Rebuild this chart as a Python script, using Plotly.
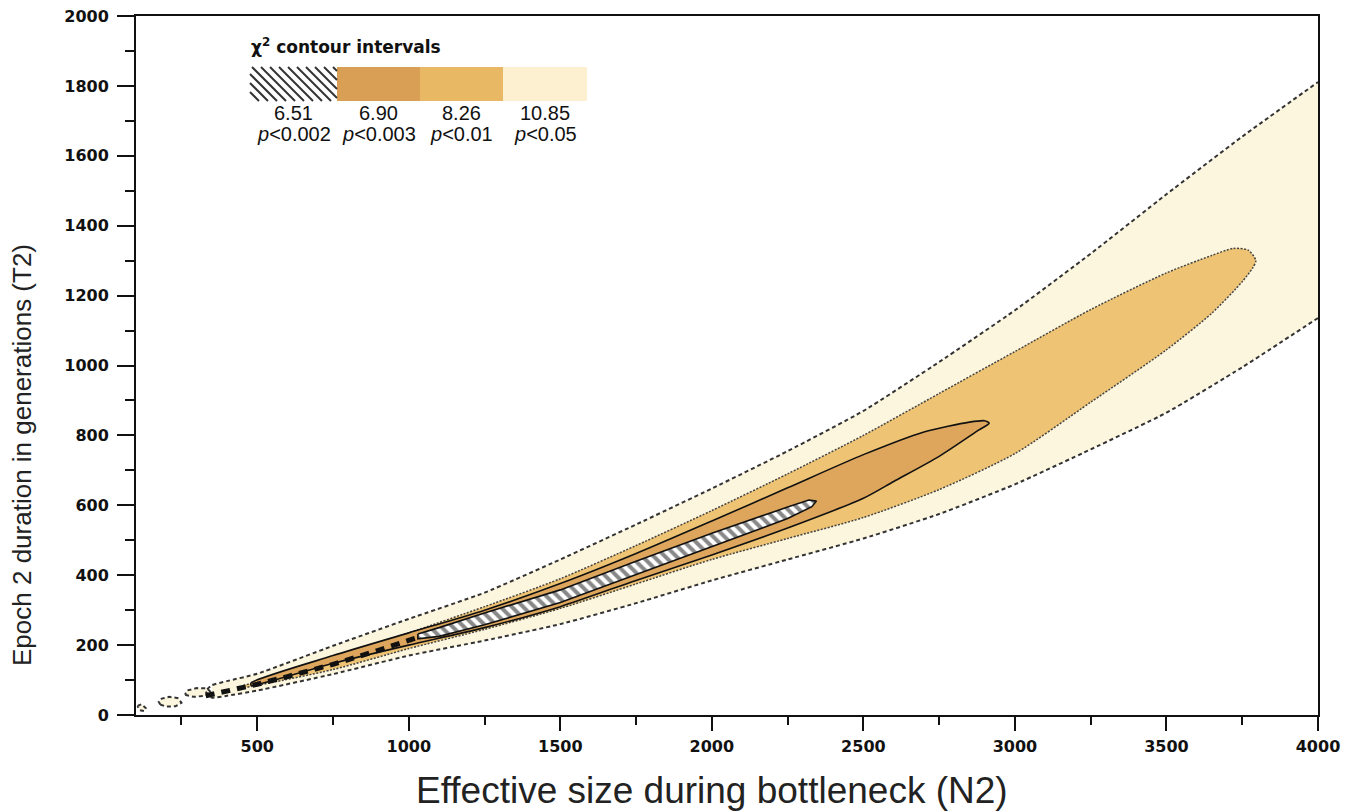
import plotly.graph_objects as go

# ---------------- data ----------------
# outer contour, chi2 = 10.85 (p<0.05), dashed
N_outer = [350, 400, 500, 750, 1000, 1250, 1500, 1750, 2000, 2250, 2500, 2750, 3000, 3250, 3500, 3750, 4000]
T_outer_up = [85, 97, 118, 198, 275, 350, 445, 545, 648, 755, 870, 1010, 1158, 1320, 1490, 1655, 1811]
T_outer_lo = [50, 55, 70, 117, 170, 213, 260, 320, 385, 445, 505, 575, 660, 760, 865, 995, 1136]

# chi2 = 8.26 (p<0.01), dotted, closed
N_826_up = [450, 500, 750, 1000, 1250, 1500, 1750, 2000, 2250, 2500, 2750, 3000, 3250, 3500, 3650, 3720, 3770, 3795]
T_826_up = [82, 95, 165, 235, 310, 390, 485, 585, 690, 800, 920, 1040, 1160, 1265, 1315, 1335, 1330, 1300]
N_826_lo = [3785, 3750, 3650, 3500, 3250, 3000, 2750, 2500, 2250, 2000, 1750, 1500, 1250, 1000, 750, 500, 450]
T_826_lo = [1280, 1240, 1150, 1045, 895, 748, 645, 565, 505, 445, 375, 305, 245, 190, 130, 85, 78]

# chi2 = 6.90 (p<0.003), solid, closed
N_690_up = [480, 750, 1000, 1250, 1500, 1750, 2000, 2250, 2500, 2700, 2850, 2900, 2915]
T_690_up = [92, 170, 235, 300, 376, 462, 555, 650, 745, 810, 838, 842, 835]
N_690_lo = [2880, 2750, 2600, 2500, 2250, 2000, 1750, 1500, 1250, 1000, 750, 480]
T_690_lo = [815, 740, 668, 620, 535, 458, 385, 310, 250, 200, 148, 85]

# chi2 = 6.51 (p<0.002), hatched, closed
N_651_up = [1030, 1100, 1250, 1500, 1750, 2000, 2250, 2320, 2345]
T_651_up = [232, 250, 292, 358, 440, 520, 595, 615, 612]
N_651_lo = [2330, 2250, 2000, 1750, 1500, 1250, 1100, 1030]
T_651_lo = [596, 562, 482, 402, 322, 258, 225, 218]

# broken 6.51 fragments along the ridge at small N2
N_frag = [330, 400, 500, 600, 750, 900, 1030]
T_frag = [55, 68, 88, 110, 145, 185, 222]

# small islands near the origin
N_isl0 = [105, 118, 132, 128, 112]
T_isl0 = [26, 31, 20, 11, 14]
N_isl1 = [180, 200, 230, 250, 240, 210, 185, 175]
T_isl1 = [30, 24, 25, 35, 48, 52, 47, 38]
N_isl2 = [262, 290, 330, 348, 335, 300, 268]
T_isl2 = [58, 52, 55, 64, 76, 77, 70]

levels = ["6.51", "6.90", "8.26", "10.85"]
pvals = ["0.002", "0.003", "0.01", "0.05"]

C_CREAM = "#FDF6DE"
C_826 = "#EEC474"
C_690 = "#DDA65C"

fig = go.Figure()

def band(nu, tu, nl, tl):
    return list(nu) + list(nl), list(tu) + list(tl)

DASH = dict(color="#333", width=2, dash="4px,3px")

# outer filled band (no outline along plot edge)
xo, yo = band(N_outer, T_outer_up, N_outer[::-1], T_outer_lo[::-1])
fig.add_trace(go.Scatter(x=xo, y=yo, fill="toself", fillcolor=C_CREAM, mode="none", hoverinfo="skip"))
for nx, ty in [(N_isl0, T_isl0), (N_isl1, T_isl1), (N_isl2, T_isl2)]:
    fig.add_trace(go.Scatter(x=nx + nx[:1], y=ty + ty[:1], fill="toself", fillcolor=C_CREAM,
                             mode="lines", line=DASH, hoverinfo="skip"))
fig.add_trace(go.Scatter(x=N_outer[::-1] + [N_outer[0] - 20] + N_outer,
                         y=T_outer_lo[::-1] + [(T_outer_up[0] + T_outer_lo[0]) / 2] + T_outer_up,
                         mode="lines", line=dict(DASH, shape="spline", smoothing=0.5), hoverinfo="skip"))

# 8.26 region
x8, y8 = band(N_826_up, T_826_up, N_826_lo, T_826_lo)
fig.add_trace(go.Scatter(x=x8 + x8[:1], y=y8 + y8[:1], fill="toself", fillcolor=C_826, mode="lines",
                         line=dict(color="#444", width=1.5, dash="2px,1.5px", shape="spline", smoothing=0.7),
                         hoverinfo="skip"))

# 6.90 region
x6, y6 = band(N_690_up, T_690_up, N_690_lo, T_690_lo)
fig.add_trace(go.Scatter(x=x6 + x6[:1], y=y6 + y6[:1], fill="toself", fillcolor=C_690, mode="lines",
                         line=dict(color="#111", width=1.6, shape="spline", smoothing=0.7), hoverinfo="skip"))

# fragments
fig.add_trace(go.Scatter(x=N_frag, y=T_frag, mode="lines",
                         line=dict(color="#111", width=5, dash="9px,7px"), hoverinfo="skip"))

# 6.51 hatched region
x5, y5 = band(N_651_up, T_651_up, N_651_lo, T_651_lo)
fig.add_trace(go.Scatter(x=x5 + x5[:1], y=y5 + y5[:1], fill="toself", fillcolor="white",
                         fillpattern=dict(shape="\\", fgcolor="#111", bgcolor="white", size=8, solidity=0.5),
                         mode="lines", line=dict(color="#111", width=1.6), hoverinfo="skip"))

# ---------------- layout ----------------
# page has an 8px body margin; figure sized so the plot area lands at these page pixels
OFF = 8
L, R, T, B = 136, 1318, 16, 715
W, H = 1357 - OFF, 811 - OFF

def px(x):
    return (x - L) / (R - L)

def py(y):
    return (B - y) / (B - T)

shapes = []
sw_x = [250, 337, 420, 503, 587]
sw_y0, sw_y1 = 67, 101
cols = [None, "#D9A055", "#E8B865", "#FCF0D0"]
for i in range(1, 4):
    shapes.append(dict(type="rect", xref="paper", yref="paper", x0=px(sw_x[i]), x1=px(sw_x[i + 1]),
                       y0=py(sw_y1), y1=py(sw_y0), fillcolor=cols[i], line=dict(width=0), layer="above"))
hgt = sw_y1 - sw_y0
xs = sw_x[0] - hgt
while xs < sw_x[1]:
    x_a, y_a = xs, sw_y0
    x_b, y_b = xs + hgt, sw_y1
    if x_a < sw_x[0]:
        y_a = sw_y0 + (sw_x[0] - x_a)
        x_a = sw_x[0]
    if x_b > sw_x[1]:
        y_b = sw_y1 - (x_b - sw_x[1])
        x_b = sw_x[1]
    if x_b > x_a:
        shapes.append(dict(type="line", xref="paper", yref="paper", x0=px(x_a), y0=py(y_a), x1=px(x_b), y1=py(y_b),
                           line=dict(color="#333", width=2), layer="above"))
    xs += 9

FONT = "Liberation Sans, Arial"
annotations = [
    dict(text="<b>χ<sup>2</sup> contour intervals</b>", xref="paper", yref="paper", x=px(249), y=py(46),
         xanchor="left", yanchor="middle", showarrow=False, font=dict(size=17, color="#111", family="DejaVu Sans")),
]
for i in range(4):
    cx = (sw_x[i] + sw_x[i + 1]) / 2
    annotations.append(dict(text=levels[i], xref="paper", yref="paper", x=px(cx), y=py(113), xanchor="center",
                            yanchor="middle", showarrow=False, font=dict(size=20, color="#111", family=FONT)))
    annotations.append(dict(text="<i>p</i>&lt;" + pvals[i], xref="paper", yref="paper", x=px(cx), y=py(134),
                            xanchor="center", yanchor="middle", showarrow=False,
                            font=dict(size=20, color="#111", family=FONT)))
annotations.append(dict(text="Epoch 2 duration in generations (T2)", xref="paper", yref="paper", x=px(22), y=py(455),
                        textangle=-90, xanchor="center", yanchor="middle", showarrow=False,
                        font=dict(size=26, color="#222", family=FONT)))
annotations.append(dict(text="Effective size during bottleneck (N2)", xref="paper", yref="paper", x=px(712), y=py(790),
                        xanchor="center", yanchor="middle", showarrow=False,
                        font=dict(size=37, color="#222", family=FONT)))

fig.update_layout(
    width=W, height=H, showlegend=False,
    plot_bgcolor="white", paper_bgcolor="white",
    margin=dict(l=L - OFF, r=(W + OFF) - R, t=T - OFF, b=(H + OFF) - B, autoexpand=False),
    shapes=shapes, annotations=annotations,
    xaxis=dict(range=[100, 4000], tickvals=[500, 1000, 1500, 2000, 2500, 3000, 3500, 4000], automargin=False,
               showline=True, linecolor="#111", linewidth=2, mirror=True, ticks="outside", ticklen=14, tickwidth=2,
               tickcolor="#111", showgrid=False, zeroline=False, ticklabelstandoff=2, ticklabeloverflow="allow",
               tickfont=dict(size=16, family="DejaVu Sans", color="#111", weight="bold"),
               minor=dict(ticks="outside", ticklen=8, tickwidth=2, tickcolor="#111", dtick=250, tick0=0, showgrid=False)),
    yaxis=dict(range=[0, 2000], dtick=200, showline=True, linecolor="#111", linewidth=2, mirror=True,
               ticks="outside", ticklen=17, tickwidth=2, tickcolor="#111", showgrid=False, zeroline=False,
               ticklabelstandoff=5, automargin=False, ticklabeloverflow="allow",
               tickfont=dict(size=16, family="DejaVu Sans", color="#111", weight="bold"),
               minor=dict(ticks="outside", ticklen=9, tickwidth=2, tickcolor="#111", dtick=100, tick0=0, showgrid=False)),
)

fig.write_html("out.html")
